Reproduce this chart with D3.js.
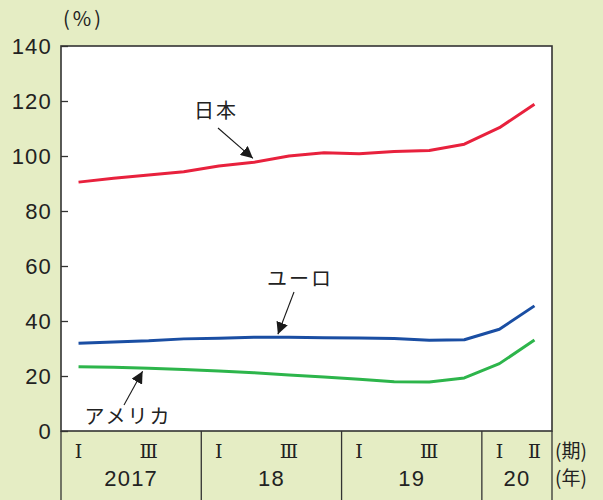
<!DOCTYPE html>
<html>
<head>
<meta charset="utf-8">
<script src="https://cdn.jsdelivr.net/npm/d3@7"></script>
<style>
  html, body { margin: 0; padding: 0; background: #e5edc4; }
  svg { display: block; }
</style>
</head>
<body>
<svg id="chart" width="603" height="500"></svg>
<script>
// Quarterly periods: 2017 I .. 2020 II
const periods = ["2017Q1","2017Q2","2017Q3","2017Q4","2018Q1","2018Q2","2018Q3","2018Q4",
                 "2019Q1","2019Q2","2019Q3","2019Q4","2020Q1","2020Q2"];
const japan   = [90.5, 91.9, 93.1, 94.3, 96.4, 97.7, 100.0, 101.2, 100.8, 101.6, 102.0, 104.3, 110.3, 118.8];
const euro    = [31.9, 32.4, 32.8, 33.5, 33.7, 34.1, 34.1, 33.9, 33.8, 33.6, 33.0, 33.2, 37.0, 45.5];
const usa     = [23.4, 23.2, 22.8, 22.4, 21.8, 21.2, 20.4, 19.6, 18.8, 17.9, 17.8, 19.3, 24.5, 33.1];
const yTicks  = [0, 20, 40, 60, 80, 100, 120, 140];
const years   = [{label: "2017", start: 0, n: 4}, {label: "18", start: 4, n: 4},
                 {label: "19", start: 8, n: 4}, {label: "20", start: 12, n: 2}];
const quarterLabels = [
  {i: 0, t: "Ⅰ"}, {i: 2, t: "Ⅲ"}, {i: 4, t: "Ⅰ"}, {i: 6, t: "Ⅲ"},
  {i: 8, t: "Ⅰ"}, {i: 10, t: "Ⅲ"}, {i: 12, t: "Ⅰ"}, {i: 13, t: "Ⅱ"}
];

const svg = d3.select("#chart");
const plotL = 61, plotR = 552, plotT = 46, plotB = 431;

const x = d3.scaleBand().domain(periods).range([plotL, plotR]).paddingInner(0).paddingOuter(0);
const y = d3.scaleLinear().domain([0, 140]).range([plotB, plotT]);
const cx = p => x(p) + x.bandwidth() / 2;

// arrow marker
svg.append("defs").append("marker")
  .attr("id", "arr").attr("viewBox", "0 0 10 10").attr("refX", 10).attr("refY", 5)
  .attr("markerWidth", 12).attr("markerHeight", 12).attr("markerUnits", "userSpaceOnUse")
  .attr("orient", "auto")
  .append("path").attr("d", "M0,0 L10,5 L0,10 Z").attr("fill", "#1a1a1a");

// plot background
svg.append("rect").attr("x", plotL).attr("y", plotT)
  .attr("width", plotR - plotL).attr("height", plotB - plotT).attr("fill", "#ffffff");

// y axis ticks (inward) and labels
const yAxis = d3.axisRight(y).tickValues(yTicks).tickSize(7).tickFormat("");
svg.append("g").attr("transform", `translate(${plotL},0)`).call(yAxis)
  .call(g => g.select(".domain").remove())
  .call(g => g.selectAll("line").attr("stroke", "#333").attr("stroke-width", 1.3));

svg.append("g").selectAll("text").data(yTicks).join("text")
  .attr("x", 52).attr("y", d => y(d)).attr("dy", "0.36em")
  .attr("text-anchor", "end")
  .attr("font-family", "Liberation Sans, Arial, sans-serif")
  .attr("font-size", 22).attr("letter-spacing", 1.2).attr("fill", "#222")
  .text(d => d);

const cjk = "Noto Sans CJK JP, sans-serif";
svg.append("text").attr("x", 63).attr("y", 19).attr("dy", "0.36em")
  .attr("font-family", cjk).attr("font-size", 20).attr("letter-spacing", 3).attr("fill", "#222")
  .text("(%)");

// lines
const line = d3.line().x((d, i) => cx(periods[i])).y(d => y(d));
const series = [
  {data: japan, color: "#e8213d"},
  {data: euro,  color: "#1a4ea3"},
  {data: usa,   color: "#2db54b"}
];
svg.append("g").selectAll("path").data(series).join("path")
  .attr("d", d => line(d.data)).attr("fill", "none")
  .attr("stroke", d => d.color).attr("stroke-width", 3)
  .attr("stroke-linejoin", "round");

// frame
svg.append("rect").attr("x", plotL).attr("y", plotT)
  .attr("width", plotR - plotL).attr("height", plotB - plotT)
  .attr("fill", "none").attr("stroke", "#333").attr("stroke-width", 1.6);

// year separators in lower band
const seps = years.map(d => x(periods[d.start])).concat([plotR]);
svg.append("g").selectAll("line").data(seps).join("line")
  .attr("x1", d => d).attr("x2", d => d).attr("y1", plotB).attr("y2", 500)
  .attr("stroke", "#333").attr("stroke-width", 1.3);

// quarter labels (serif Roman numerals)
svg.append("g").selectAll("text").data(quarterLabels).join("text")
  .attr("x", d => cx(periods[d.i])).attr("y", 451).attr("dy", "0.36em")
  .attr("text-anchor", "middle")
  .attr("font-family", "DejaVu Serif, Liberation Serif, serif").attr("font-size", 19).attr("fill", "#222")
  .text(d => d.t);

// year labels
svg.append("g").selectAll("text").data(years).join("text")
  .attr("x", d => (x(periods[d.start]) + x(periods[d.start + d.n - 1]) + x.bandwidth()) / 2)
  .attr("y", 478).attr("dy", "0.36em").attr("text-anchor", "middle")
  .attr("font-family", "Liberation Sans, Arial, sans-serif")
  .attr("font-size", 22).attr("letter-spacing", 1.2).attr("fill", "#222")
  .text(d => d.label);

svg.append("text").attr("x", 555).attr("y", 451).attr("dy", "0.36em")
  .attr("font-family", cjk).attr("font-size", 19).attr("fill", "#222")
  .text("(期)");
svg.append("text").attr("x", 555).attr("y", 478).attr("dy", "0.36em")
  .attr("font-family", cjk).attr("font-size", 19).attr("fill", "#222")
  .text("(年)");

// series labels with arrows pointing at their lines
const labels = [
  {text: "日本",   tx: 216, ty: 111, from: [218, 128], to: {i: 5, v: japan}, dx: -1, dy: -4},
  {text: "ユーロ", tx: 300, ty: 279, from: [294, 292], to: {i: 5, v: euro},  dx: 24, dy: -3},
  {text: "アメリカ", tx: 128, ty: 417, from: [124, 405], to: {i: 1, v: usa}, dx: 29, dy: 4}
];
const lbl = svg.append("g");
labels.forEach(d => {
  lbl.append("text").attr("x", d.tx).attr("y", d.ty).attr("dy", "0.36em")
    .attr("text-anchor", "middle")
    .attr("font-family", cjk).attr("font-size", 20)
    .attr("letter-spacing", 2).attr("fill", "#222").text(d.text);
  const tx = cx(periods[d.to.i]) + d.dx;
  const ty = y(d.to.v[d.to.i]) + d.dy;
  lbl.append("line").attr("x1", d.from[0]).attr("y1", d.from[1])
    .attr("x2", tx).attr("y2", ty)
    .attr("stroke", "#1a1a1a").attr("stroke-width", 1.1).attr("marker-end", "url(#arr)");
});
</script>
</body>
</html>
